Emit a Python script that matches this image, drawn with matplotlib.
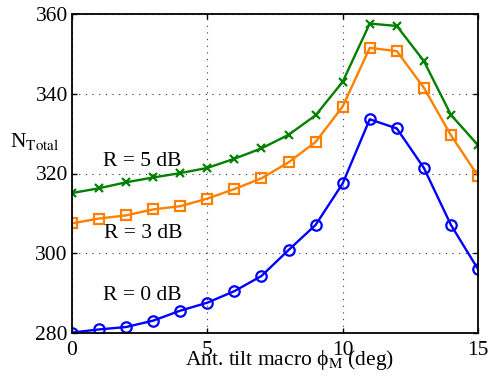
import matplotlib
matplotlib.use('Agg')
import matplotlib.pyplot as plt

plt.rcParams['font.family'] = ['Liberation Serif', 'DejaVu Serif']
plt.rcParams['mathtext.fontset'] = 'stix'

tilt = list(range(16))
r0 = [280.1, 280.9, 281.5, 283.1, 285.6, 287.6, 290.5, 294.3, 300.8, 307.1,
      317.5, 333.6, 331.3, 321.4, 307.1, 296.0]
r3 = [307.5, 308.7, 309.5, 311.0, 311.8, 313.7, 316.1, 318.8, 322.8, 327.9,
      336.8, 351.5, 350.7, 341.5, 329.6, 319.4]
r5 = [315.1, 316.3, 317.8, 319.0, 320.1, 321.4, 323.7, 326.3, 329.7, 334.6,
      343.0, 357.6, 357.0, 348.2, 334.7, 327.1]
labels = ['R = 0 dB', 'R = 3 dB', 'R = 5 dB']
label_pos = [(1.15, 289.5), (1.2, 305.0), (1.15, 323.1)]

fig = plt.figure(figsize=(4.95, 3.76), dpi=100)
ax = fig.add_axes([72/495, 1 - 333/376, (478-72)/495, (333-14)/376])

ax.plot(tilt, r0, color='#0000ff', marker='o', ms=7.5, mfc='none', mew=1.6, lw=1.7)
ax.plot(tilt, r3, color='#ff8000', marker='s', ms=6.5, mfc='none', mew=1.6, lw=1.7)
ax.plot(tilt, r5, color='#008000', marker='x', ms=5.5, mew=1.6, lw=1.7)

for lab, (x, y) in zip(labels, label_pos):
    ax.text(x, y, lab, fontsize=15.5, va='center', ha='left')

ax.set_xlim(0, 15)
ax.set_ylim(280, 360)
ax.set_xticks([0, 5, 10, 15])
ax.set_yticks([280, 300, 320, 340, 360])
ax.tick_params(direction='in', labelsize=15.5, top=True, right=True, width=1, pad=3)
ax.tick_params(axis='x', pad=6)
ax.grid(True, linestyle=(0, (1, 5)), color='#333333', lw=0.8)
for s in ax.spines.values():
    s.set_linewidth(1.3)

fig.text(10/495, 1 - 141/376, r'N$_{\rm Total}$', fontsize=15.5,
         ha='left', va='center')
fig.text(290/495, 1 - 360/376, 'Ant. tilt macro \u03d5$_{\\rm M}$ (deg)', fontsize=15.5,
         ha='center', va='center')

fig.savefig('out.png', dpi=100)
